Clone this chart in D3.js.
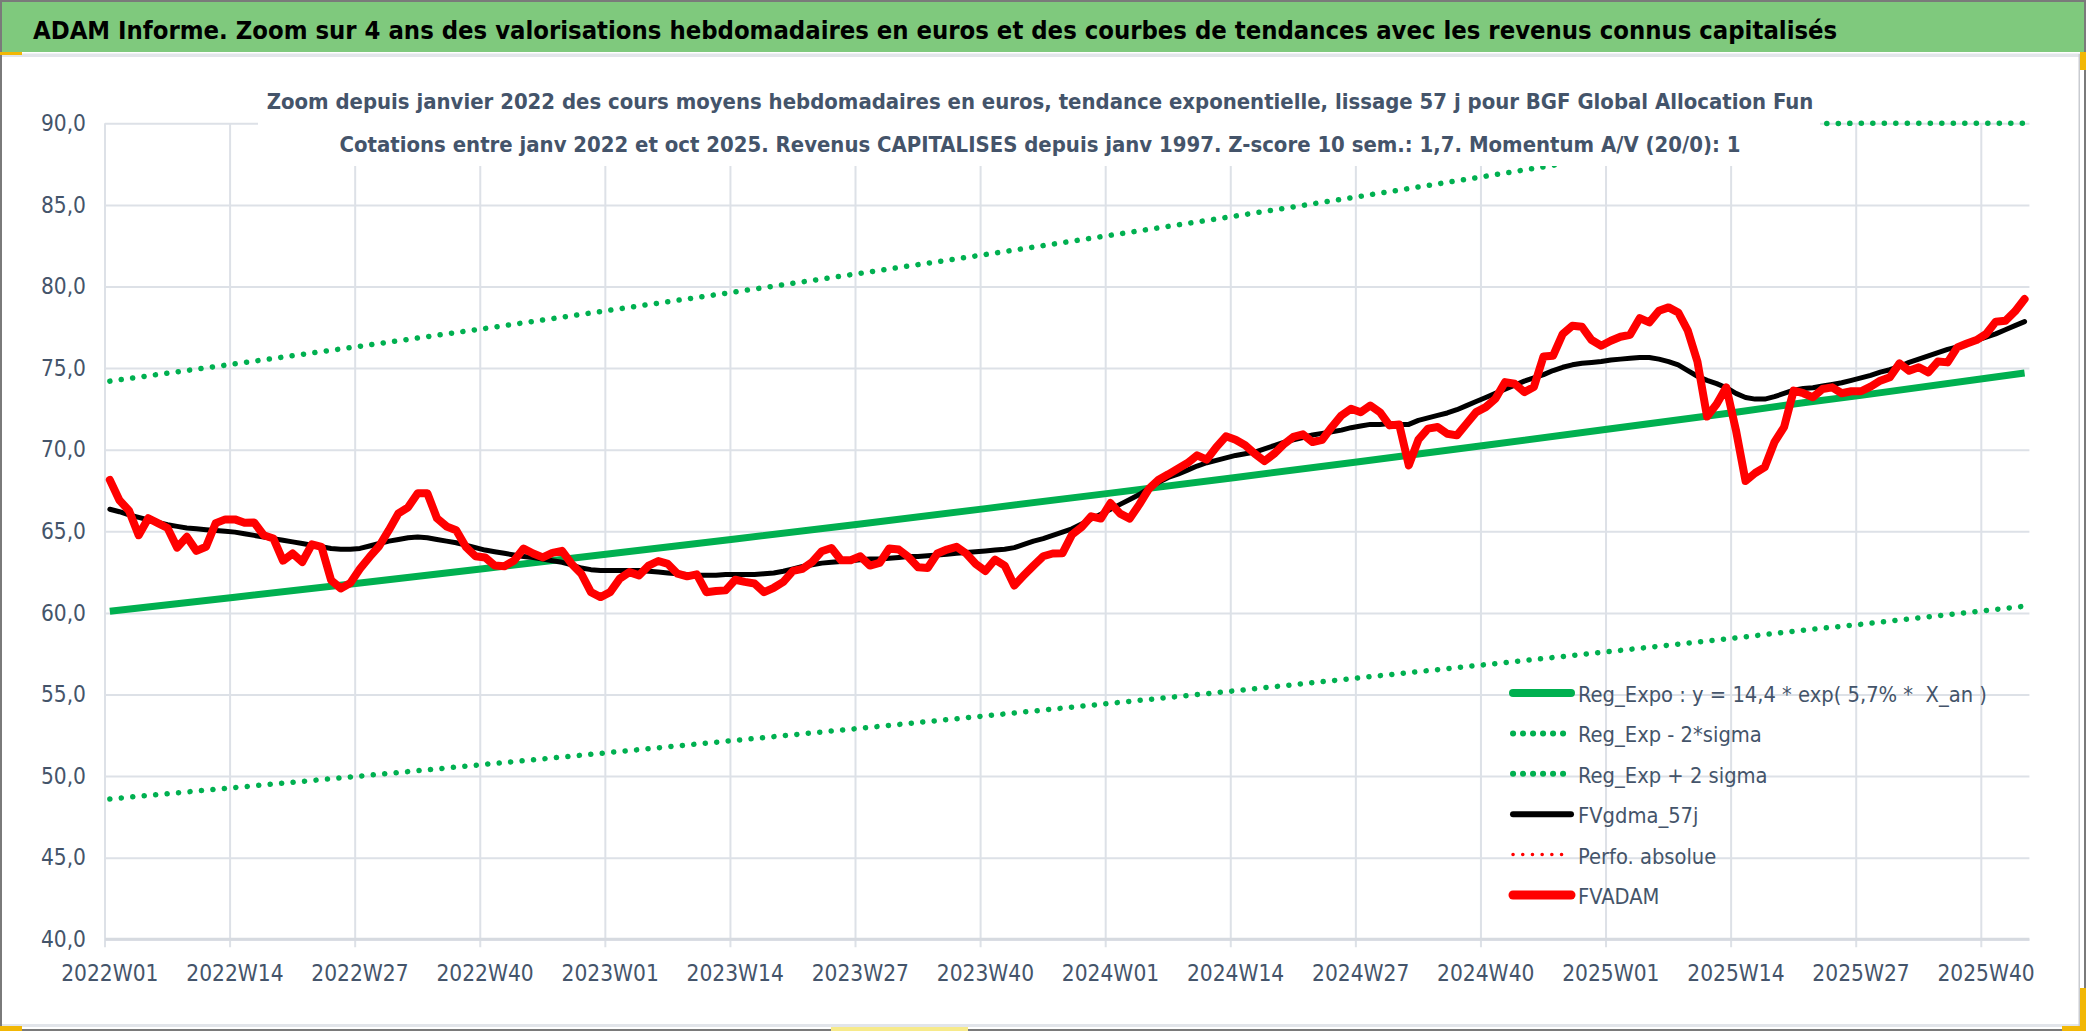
<!DOCTYPE html>
<html>
<head>
<meta charset="utf-8">
<script src="https://cdn.jsdelivr.net/npm/d3@7"></script>
<style>
  html, body { margin: 0; padding: 0; background: #fff; }
  svg { display: block; }
  text { font-family: 'Liberation Sans Narrow', 'DejaVu Sans Condensed', sans-serif; }
</style>
</head>
<body>
<svg id="chart"></svg>
<script>
/* ---------- data ---------- */
const years = [2022, 2023, 2024, 2025];
const weekCounts = [52, 52, 52, 44];
const categories = years.flatMap((yr, i) =>
  d3.range(1, weekCounts[i] + 1).map(w => `${yr}W${String(w).padStart(2, "0")}`));

const tickLabels = ["2022W01", "2022W14", "2022W27", "2022W40", "2023W01", "2023W14", "2023W27", "2023W40",
  "2024W01", "2024W14", "2024W27", "2024W40", "2025W01", "2025W14", "2025W27", "2025W40"];
const yTicks = [40, 45, 50, 55, 60, 65, 70, 75, 80, 85, 90];

// FVADAM (weekly valuation, red)
const fvadam = [
  68.15, 66.9, 66.26, 64.76, 65.8, 65.5, 65.2, 64.0, 64.66, 63.8,
  64.05, 65.5, 65.73, 65.73, 65.52, 65.54, 64.76, 64.56, 63.2, 63.64,
  63.12, 64.2, 64.05, 62.0, 61.5, 61.83, 62.7, 63.43, 64.1, 65.07,
  66.1, 66.47, 67.33, 67.33, 65.8, 65.3, 65.07, 64.05, 63.47, 63.4,
  62.9, 62.86, 63.2, 63.94, 63.64, 63.4, 63.68, 63.8, 63.0, 62.4,
  61.27, 60.97, 61.27, 62.1, 62.5, 62.3, 62.9, 63.18, 63.0, 62.4,
  62.24, 62.36, 61.27, 61.34, 61.38, 62.03, 61.9, 61.8, 61.27, 61.54,
  61.9, 62.57, 62.7, 63.12, 63.78, 63.98, 63.23, 63.23, 63.47, 62.9,
  63.06, 63.94, 63.88, 63.43, 62.8, 62.75, 63.64, 63.88, 64.05, 63.64,
  63.0, 62.57, 63.27, 62.9, 61.68, 62.3, 62.9, 63.47, 63.64, 63.65,
  64.8, 65.26, 65.92, 65.78, 66.73, 66.08, 65.78, 66.65, 67.61, 68.16,
  68.49, 68.84, 69.18, 69.65, 69.39, 70.16, 70.82, 70.61, 70.27, 69.75,
  69.3, 69.75, 70.33, 70.78, 70.94, 70.47, 70.61, 71.39, 72.1, 72.51,
  72.3, 72.71, 72.3, 71.49, 71.55, 69.04, 70.61, 71.29, 71.39, 70.98,
  70.88, 71.59, 72.3, 72.61, 73.12, 74.14, 74.04, 73.53, 73.84, 75.71,
  75.76, 77.09, 77.6, 77.53, 76.72, 76.37, 76.68, 76.92, 77.04, 78.06,
  77.8, 78.51, 78.72, 78.41, 77.29, 75.4, 72.03, 72.8, 73.82, 71.2,
  68.08, 68.57, 68.93, 70.46, 71.38, 73.62, 73.46, 73.21, 73.72, 73.82,
  73.46, 73.58, 73.58, 73.87, 74.23, 74.44, 75.29, 74.84, 75.05, 74.74,
  75.41, 75.35, 76.27, 76.51, 76.72, 77.09, 77.84, 77.9, 78.47, 79.23
];

// FVgdma_57j (smoothed, black)
const fvgdma = [
  66.35, 66.2, 66.0, 65.85, 65.7, 65.55, 65.4, 65.3, 65.2, 65.15,
  65.1, 65.05, 65.0, 64.95, 64.85, 64.75, 64.65, 64.55, 64.45, 64.35,
  64.25, 64.15, 64.05, 63.95, 63.9, 63.9, 63.95, 64.1, 64.25, 64.4,
  64.5, 64.6, 64.65, 64.6, 64.5, 64.4, 64.3, 64.15, 64.0, 63.85,
  63.75, 63.65, 63.55, 63.45, 63.4, 63.3, 63.2, 63.1, 62.95, 62.75,
  62.65, 62.6, 62.6, 62.6, 62.6, 62.6, 62.55, 62.5, 62.45, 62.4,
  62.35, 62.3, 62.3, 62.3, 62.35, 62.35, 62.35, 62.35, 62.4, 62.45,
  62.55, 62.7, 62.85, 62.95, 63.05, 63.1, 63.15, 63.2, 63.25, 63.3,
  63.3, 63.35, 63.4, 63.45, 63.45, 63.5, 63.55, 63.6, 63.65, 63.7,
  63.75, 63.8, 63.85, 63.9, 64.0, 64.2, 64.4, 64.55, 64.75, 64.95,
  65.15, 65.45, 65.75, 66.05, 66.35, 66.65, 66.95, 67.25, 67.65, 68.0,
  68.3, 68.5, 68.75, 69.0, 69.2, 69.35, 69.5, 69.65, 69.75, 69.85,
  70.05, 70.25, 70.45, 70.6, 70.75, 70.9, 71.0, 71.1, 71.2, 71.35,
  71.45, 71.55, 71.55, 71.6, 71.55, 71.55, 71.8, 71.95, 72.1, 72.25,
  72.45, 72.7, 72.95, 73.2, 73.45, 73.7, 73.95, 74.2, 74.4, 74.6,
  74.85, 75.05, 75.2, 75.3, 75.35, 75.4, 75.5, 75.55, 75.6, 75.65,
  75.65, 75.55, 75.4, 75.2, 74.85, 74.5, 74.25, 74.05, 73.8, 73.45,
  73.2, 73.1, 73.1, 73.25, 73.45, 73.65, 73.75, 73.8, 73.9, 74.0,
  74.1, 74.25, 74.4, 74.55, 74.75, 74.9, 75.1, 75.35, 75.55, 75.75,
  75.95, 76.15, 76.3, 76.5, 76.7, 76.9, 77.1, 77.35, 77.6, 77.85
];

// exponential trend and +/- 2 sigma bands, read at these weeks
const trendWeeks = ["2022W01", "2022W14", "2022W27", "2022W40", "2023W01", "2023W14", "2023W27", "2023W40",
  "2024W01", "2024W14", "2024W27", "2024W40", "2025W01", "2025W14", "2025W21", "2025W27", "2025W40", "2025W44"];
const regExpo = [60.1, 60.96, 61.83, 62.72, 63.62, 64.53, 65.45, 66.39, 67.34, 68.3, 69.28, 70.27, 71.28, 72.3, 72.88, 73.33, 74.38, 74.7];
const regLow = [48.6, 49.3, 50.0, 50.72, 51.45, 52.19, 52.93, 53.69, 54.46, 55.23, 56.03, 56.83, 57.64, 58.47, 58.94, 59.3, 60.15, 60.41];
const regHigh = [74.2, 75.26, 76.34, 77.43, 78.55, 79.67, 80.81, 81.96, 83.14, 84.32, 85.53, 86.76, 88.0, 89.26, 89.98, 90.53, 91.83, 92.2];

const legendNames = ["Reg_Expo : y = 14,4 * exp( 5,7% *  X_an )", "Reg_Exp - 2*sigma", "Reg_Exp + 2 sigma",
  "FVgdma_57j", "Perfo. absolue", "FVADAM"];

const mainTitle = "ADAM Informe. Zoom sur 4 ans des valorisations hebdomadaires en euros et des courbes de tendances avec les revenus connus capitalisés";
const subTitle1 = "Zoom depuis janvier 2022 des cours moyens hebdomadaires en euros, tendance exponentielle, lissage 57 j pour BGF Global Allocation Fun";
const subTitle2 = "Cotations entre janv 2022 et oct 2025. Revenus CAPITALISES depuis janv 1997. Z-score 10 sem.: 1,7. Momentum A/V (20/0): 1";

/* ---------- layout ---------- */
const W = 2086, H = 1031;
const plot = { left: 105, right: 2029.4, top: 123.3, bottom: 939.3 };
const textCol = "#44546a";
const gridCol = "#dde1e7";
const green = "#00b050";

const svg = d3.select("#chart").attr("width", W).attr("height", H);

// shrink a text's font size until it fits the given width
const fit = (sel, target, size) => {
  sel.attr("font-size", size);
  const len = sel.node().getComputedTextLength();
  if (len > target) sel.attr("font-size", (size * target / len).toFixed(2));
  return sel;
};

// frame
svg.append("rect").attr("x", 0).attr("y", 0).attr("width", W).attr("height", H).attr("fill", "#fff");
svg.append("rect").attr("x", 0).attr("y", 0).attr("width", W).attr("height", 52).attr("fill", "#7fc97d");
svg.append("rect").attr("x", 0).attr("y", 53.5).attr("width", W - 6).attr("height", 3.5).attr("fill", "#e2e5ea");
svg.append("rect").attr("x", 0).attr("y", 1024).attr("width", W - 6).attr("height", 3).attr("fill", "#e2e5ea");
svg.append("rect").attr("x", W - 7.5).attr("y", 54).attr("width", 1.5).attr("height", 972).attr("fill", "#c9ccd1");
svg.append("rect").attr("x", 1).attr("y", 1).attr("width", W - 2).attr("height", H - 2)
  .attr("fill", "none").attr("stroke", "#7a7a7a").attr("stroke-width", 2);

// selection handles visible on the frame
[[0, 52, 22, 3, "#f2b705"], [W - 6, 52, 6, 18, "#f2b705"], [0, 1026, 22, 5, "#f2b705"],
 [831, 1027, 137, 4, "#f7ea8a"], [W - 24, 1026, 24, 5, "#f2b705"], [W - 6, 988, 6, 43, "#f2b705"]]
  .forEach(([x0, y0, w, h, c]) => svg.append("rect").attr("x", x0).attr("y", y0)
    .attr("width", w).attr("height", h).attr("fill", c));

const title = svg.append("text")
  .attr("x", 33).attr("y", 39)
  .attr("font-weight", "bold").attr("fill", "#000")
  .text(mainTitle);
fit(title, 1805, 33);

/* ---------- scales ---------- */
const x = d3.scaleBand().domain(categories).range([plot.left, plot.right]).padding(0);
const y = d3.scaleLinear().domain([40, 90]).range([plot.bottom, plot.top]);
const cx = c => x(c) + x.bandwidth() / 2;

// horizontal grid
svg.append("g")
  .attr("transform", `translate(${plot.left},0)`)
  .call(d3.axisLeft(y).tickValues(yTicks).tickSize(-(plot.right - plot.left)).tickFormat(""))
  .call(g => g.select(".domain").remove())
  .call(g => g.selectAll(".tick line").attr("stroke", gridCol).attr("stroke-width", 2));

// vertical grid at category boundaries
svg.append("g").selectAll("line")
  .data(tickLabels)
  .join("line")
  .attr("x1", d => x(d)).attr("x2", d => x(d))
  .attr("y1", plot.top).attr("y2", plot.bottom + 8)
  .attr("stroke", gridCol).attr("stroke-width", 2);

// horizontal axis line
svg.append("line")
  .attr("x1", plot.left).attr("x2", plot.right)
  .attr("y1", y(40)).attr("y2", y(40))
  .attr("stroke", "#d6dae0").attr("stroke-width", 3);

// y labels
svg.append("g")
  .attr("transform", `translate(${plot.left},0)`)
  .call(d3.axisLeft(y).tickValues(yTicks).tickSize(0).tickPadding(19)
    .tickFormat(d => d3.format(".1f")(d).replace(".", ",")))
  .call(g => g.select(".domain").remove())
  .call(g => g.selectAll("text").attr("font-size", 22.5).attr("fill", textCol)
    .attr("font-family", "'Liberation Sans Narrow', 'DejaVu Sans Condensed', sans-serif"));

// x labels
svg.append("g")
  .attr("transform", `translate(0,${plot.bottom})`)
  .call(d3.axisBottom(x).tickValues(tickLabels).tickSize(0).tickPadding(26))
  .call(g => g.select(".domain").remove())
  .call(g => g.selectAll("text").attr("font-size", 22.5).attr("fill", textCol)
    .attr("font-family", "'Liberation Sans Narrow', 'DejaVu Sans Condensed', sans-serif"));

/* ---------- series ---------- */
const line = d3.line().x(d => cx(d.c)).y(d => y(Math.min(d.v, 90)));
const trend = arr => trendWeeks.map((c, i) => ({ c, v: arr[i] }));
const weekly = arr => categories.map((c, i) => ({ c, v: arr[i] }));

const series = svg.append("g").attr("fill", "none")
  .attr("stroke-linejoin", "round").attr("stroke-linecap", "round");

series.append("path").datum(trend(regExpo)).attr("d", line)
  .attr("stroke", green).attr("stroke-width", 7).attr("stroke-linecap", "butt");
series.append("path").datum(trend(regLow)).attr("d", line)
  .attr("stroke", green).attr("stroke-width", 5.5).attr("stroke-dasharray", "0.1 11.4");
series.append("path").datum(trend(regHigh)).attr("d", line)
  .attr("stroke", green).attr("stroke-width", 5.5).attr("stroke-dasharray", "0.1 11.4");
series.append("path").datum(weekly(fvgdma)).attr("d", line)
  .attr("stroke", "#000").attr("stroke-width", 5);
series.append("path").datum(weekly(fvadam)).attr("d", line)
  .attr("stroke", "#ff0000").attr("stroke-width", 8);

/* ---------- subtitle box ---------- */
svg.append("rect").attr("x", 258).attr("y", 70).attr("width", 1562).attr("height", 96).attr("fill", "#fff");
const sub1 = svg.append("text")
  .attr("x", 1040).attr("y", 109.3).attr("text-anchor", "middle")
  .attr("font-weight", "bold").attr("fill", textCol)
  .text(subTitle1);
fit(sub1, 1547, 28.5);
const sub2 = svg.append("text")
  .attr("x", 1040).attr("y", 151.7).attr("text-anchor", "middle")
  .attr("font-weight", "bold").attr("fill", textCol)
  .attr("font-size", sub1.attr("font-size"))
  .text(subTitle2);

/* ---------- legend ---------- */
const legendStyle = [
  { color: green, width: 8, dash: null },
  { color: green, width: 6, dash: "0.1 9.9" },
  { color: green, width: 6, dash: "0.1 9.9" },
  { color: "#000", width: 6, dash: null },
  { color: "#ff0000", width: 3.5, dash: "0.1 9.6" },
  { color: "#ff0000", width: 9, dash: null }
];
const legend = svg.append("g").attr("transform", "translate(1511,693)");
const rows = legend.selectAll("g").data(legendNames).join("g")
  .attr("transform", (d, i) => `translate(0,${i * 40.4})`);
rows.append("line")
  .attr("x1", 2).attr("x2", 60)
  .attr("y1", 0).attr("y2", 0)
  .attr("stroke", (d, i) => legendStyle[i].color)
  .attr("stroke-width", (d, i) => legendStyle[i].width)
  .attr("stroke-dasharray", (d, i) => legendStyle[i].dash)
  .attr("stroke-linecap", "round");
const legendText = rows.append("text")
  .attr("x", 67).attr("y", 9)
  .attr("fill", textCol)
  .style("white-space", "pre")
  .text(d => d);
fit(d3.select(legendText.nodes()[0]), 409, 26);
legendText.attr("font-size", d3.select(legendText.nodes()[0]).attr("font-size"));
</script>
</body>
</html>
